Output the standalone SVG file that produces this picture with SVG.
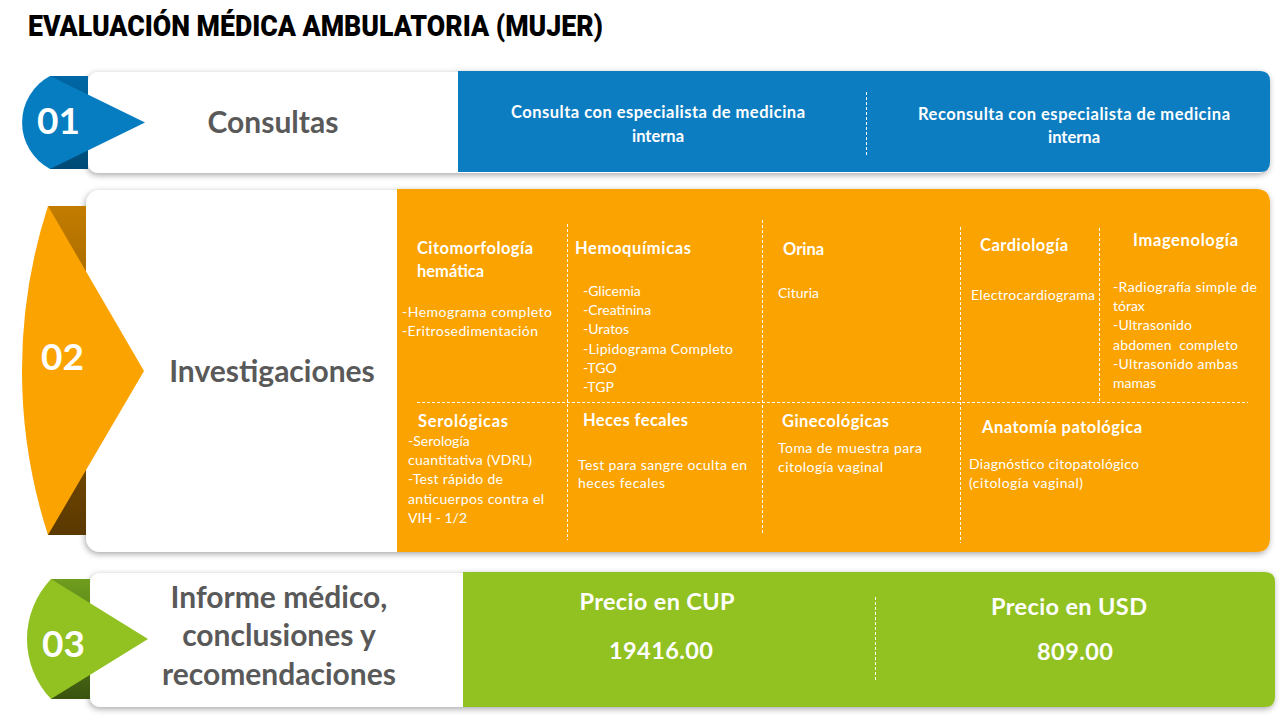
<svg xmlns="http://www.w3.org/2000/svg" width="1280" height="720" viewBox="0 0 1280 720">
  <defs>
    <filter id="shadow" x="-5%" y="-20%" width="110%" height="140%">
      <feDropShadow dx="-1" dy="2" stdDeviation="3" flood-color="#000" flood-opacity="0.35"/>
    </filter>
    <linearGradient id="gBlue" x1="0" y1="0" x2="0" y2="1">
      <stop offset="0" stop-color="#0068A6"/>
      <stop offset="1" stop-color="#004A75"/>
    </linearGradient>
    <linearGradient id="gOrange" x1="0" y1="0" x2="0" y2="1">
      <stop offset="0" stop-color="#C27C00"/>
      <stop offset="1" stop-color="#5A3800"/>
    </linearGradient>
    <linearGradient id="gGreen" x1="0" y1="0" x2="0" y2="1">
      <stop offset="0" stop-color="#6E9E1E"/>
      <stop offset="1" stop-color="#3A5410"/>
    </linearGradient>
  </defs>
  <style>
    .title { font-family: Roboto, "Liberation Sans", sans-serif; font-weight: 900; font-size: 29px; fill: #000; }
    .num { font-family: Lato, "Liberation Sans", sans-serif; font-weight: bold; font-size: 37px; fill: #fff; }
    .label { font-family: Lato, "Liberation Sans", sans-serif; font-weight: bold; font-size: 30px; fill: #595959; text-anchor: middle; }
    .hd { font-family: Lato, "Liberation Sans", sans-serif; font-weight: bold; font-size: 16.5px; fill: #fff; }
    .bd { font-family: Lato, "Liberation Sans", sans-serif; font-size: 14px; fill: #fff; }
    .bl { font-family: Lato, "Liberation Sans", sans-serif; font-weight: bold; font-size: 16.5px; fill: #fff; text-anchor: middle; }
    .gr { font-family: Lato, "Liberation Sans", sans-serif; font-weight: bold; font-size: 23.5px; fill: #fff; text-anchor: middle; }
    .card { fill: #fff; }
    .dash { stroke: #fff; stroke-width: 1; stroke-dasharray: 3 2; fill: none; }
  </style>

  <rect width="1280" height="720" fill="#fff"/>

  <text id="title" class="title" x="28" y="36" textLength="575" lengthAdjust="spacingAndGlyphs">EVALUACIÓN MÉDICA AMBULATORIA (MUJER)</text>

  <!-- Node 01 -->
  <g id="node-01">
    <g filter="url(#shadow)">
      <rect class="card" x="88" y="72" width="1180" height="101" rx="10"/>
      <path d="M458 71 H1260 Q1270 71 1270 81 V162 Q1270 172 1260 172 H458 Z" fill="#077DC1"/>
    </g>
    <rect x="50" y="76" width="38" height="93" fill="url(#gBlue)"/>
    <path d="M50 76 L145 122.5 L50 169 A52.7 52.7 0 0 1 50 76 Z" fill="#077DC1"/>
    <text class="num" x="37" y="134">01</text>
    <text class="label" x="273" y="133">Consultas</text>
    <text class="bl" x="658" y="118" textLength="294">Consulta con especialista de medicina</text>
    <text class="bl" x="658" y="142">interna</text>
    <text class="bl" x="1074" y="120" textLength="312">Reconsulta con especialista de medicina</text>
    <text class="bl" x="1074" y="143">interna</text>
  </g>

  <!-- Node 02 -->
  <g id="node-02">
    <g filter="url(#shadow)">
      <rect class="card" x="86" y="190" width="1180" height="362" rx="14"/>
      <path d="M397 189 H1256 Q1270 189 1270 203 V538 Q1270 552 1256 552 H397 Z" fill="#FBA301"/>
    </g>
    <rect x="48" y="206" width="38" height="329" fill="url(#gOrange)"/>
    <path d="M48 206 L144 371 L48 535 A533 533 0 0 1 48 206 Z" fill="#FBA301"/>
    <text class="num" x="41" y="370">02</text>
    <text class="label" x="272" y="382">Investigaciones</text>

    <text class="hd" x="417" y="254" textLength="116">Citomorfología</text>
    <text class="hd" x="417" y="277">hemática</text>
    <text class="bd" x="402" y="317" textLength="150">-Hemograma completo</text>
    <text class="bd" x="402" y="336" textLength="136">-Eritrosedimentación</text>

    <text class="hd" x="575" y="254" textLength="116">Hemoquímicas</text>
    <text class="bd" x="583" y="296">-Glicemia</text>
    <text class="bd" x="583" y="315">-Creatinina</text>
    <text class="bd" x="583" y="334">-Uratos</text>
    <text class="bd" x="583" y="354" textLength="150">-Lipidograma Completo</text>
    <text class="bd" x="583" y="373">-TGO</text>
    <text class="bd" x="583" y="392">-TGP</text>

    <text class="hd" x="783" y="255">Orina</text>
    <text class="bd" x="778" y="298">Cituria</text>

    <text class="hd" x="980" y="251" textLength="88">Cardiología</text>
    <text class="bd" x="971" y="300" textLength="124">Electrocardiograma</text>

    <text class="hd" x="1133" y="246" textLength="105">Imagenología</text>
    <text class="bd" x="1113" y="292" textLength="144">-Radiografía simple de</text>
    <text class="bd" x="1113" y="311">tórax</text>
    <text class="bd" x="1113" y="330" textLength="79">-Ultrasonido</text>
    <text class="bd" x="1113" y="350" textLength="125" xml:space="preserve">abdomen  completo</text>
    <text class="bd" x="1113" y="369" textLength="125">-Ultrasonido ambas</text>
    <text class="bd" x="1113" y="388">mamas</text>

    <text class="hd" x="418" y="427" textLength="90">Serológicas</text>
    <text class="bd" x="408" y="446">-Serología</text>
    <text class="bd" x="408" y="465" textLength="124">cuantitativa (VDRL)</text>
    <text class="bd" x="408" y="484" textLength="95">-Test rápido de</text>
    <text class="bd" x="408" y="504" textLength="136">anticuerpos contra el</text>
    <text class="bd" x="408" y="523">VIH - 1/2</text>

    <text class="hd" x="583" y="426" textLength="105">Heces fecales</text>
    <text class="bd" x="578" y="470" textLength="169">Test para sangre oculta en</text>
    <text class="bd" x="578" y="488" textLength="87">heces fecales</text>

    <text class="hd" x="782" y="427" textLength="107">Ginecológicas</text>
    <text class="bd" x="778" y="453" textLength="144">Toma de muestra para</text>
    <text class="bd" x="778" y="472" textLength="105">citología vaginal</text>

    <text class="hd" x="982" y="433" textLength="160">Anatomía patológica</text>
    <text class="bd" x="969" y="469" textLength="170">Diagnóstico citopatológico</text>
    <text class="bd" x="969" y="488" textLength="114">(citología vaginal)</text>
  </g>

  <!-- Node 03 -->
  <g id="node-03">
    <g filter="url(#shadow)">
      <rect class="card" x="90" y="573" width="1180" height="134" rx="10"/>
      <path d="M463 572 H1265 Q1275 572 1275 582 V697 Q1275 707 1265 707 H463 Z" fill="#92C122"/>
    </g>
    <rect x="51" y="579" width="39" height="120" fill="url(#gGreen)"/>
    <path d="M51 579 L148 639 L51 699 A87 87 0 0 1 51 579 Z" fill="#92C122"/>
    <text class="num" x="42" y="657">03</text>
    <text class="label" x="279" y="608">Informe médico,</text>
    <text class="label" x="279" y="646">conclusiones y</text>
    <text class="label" x="279" y="685">recomendaciones</text>
    <text class="gr" x="657" y="610" textLength="155">Precio en CUP</text>
    <text class="gr" x="661" y="659" textLength="104">19416.00</text>
    <text class="gr" x="1069" y="615" textLength="156">Precio en USD</text>
    <text class="gr" x="1075" y="660" textLength="76">809.00</text>
  </g>

  <!-- Dividers -->
  <g id="connectors">
    <line class="dash" x1="866.5" y1="92" x2="866.5" y2="156"/>
    <line class="dash" x1="567.5" y1="224" x2="567.5" y2="540"/>
    <line class="dash" x1="762.5" y1="220" x2="762.5" y2="535"/>
    <line class="dash" x1="960.5" y1="227" x2="960.5" y2="543"/>
    <line class="dash" x1="1099.5" y1="228" x2="1099.5" y2="402"/>
    <line class="dash" x1="417" y1="402.5" x2="1248" y2="402.5"/>
    <line class="dash" x1="875.5" y1="597" x2="875.5" y2="680"/>
  </g>
</svg>
